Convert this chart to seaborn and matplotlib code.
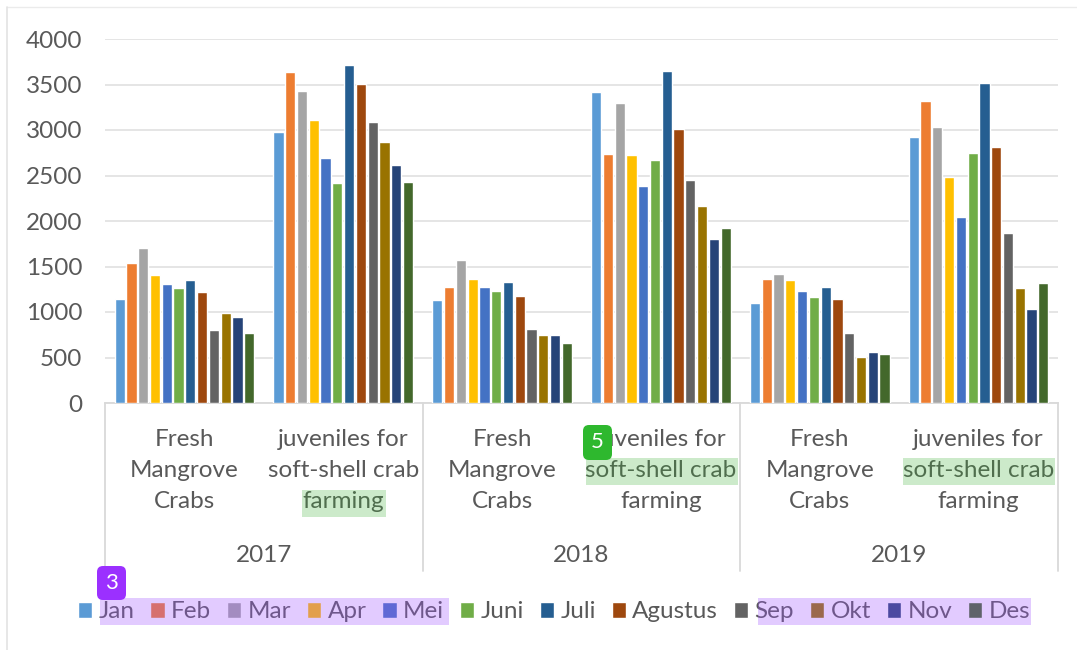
import pandas as pd
import seaborn as sns
import matplotlib.pyplot as plt
from matplotlib.patches import Rectangle, FancyBboxPatch

W, H = 1077, 650

months = ['Jan', 'Feb', 'Mar', 'Apr', 'Mei', 'Juni', 'Juli', 'Agustus', 'Sep', 'Okt', 'Nov', 'Des']
colors = ['#5B9BD5', '#ED7D31', '#A5A5A5', '#FFC000', '#4472C4', '#70AD47',
          '#255E91', '#9E480E', '#636363', '#997300', '#264478', '#43682B']
products = ['Fresh\nMangrove\nCrabs', 'juveniles for\nsoft-shell crab\nfarming']
years = ['2017', '2018', '2019']

fresh_2017 = [1141, 1538, 1699, 1402, 1310, 1259, 1347, 1218, 804, 991, 950, 767]
juv_2017 = [2973, 3637, 3424, 3112, 2690, 2422, 3714, 3505, 3083, 2870, 2617, 2430]
fresh_2018 = [1130, 1277, 1574, 1362, 1273, 1233, 1325, 1178, 811, 749, 749, 661]
juv_2018 = [3417, 2741, 3296, 2730, 2389, 2672, 3644, 3013, 2452, 2165, 1798, 1919]
fresh_2019 = [1097, 1358, 1417, 1354, 1226, 1167, 1277, 1141, 767, 510, 561, 539]
juv_2019 = [2925, 3321, 3031, 2481, 2044, 2752, 3516, 2811, 1868, 1262, 1028, 1317]
yticks = [0, 500, 1000, 1500, 2000, 2500, 3000, 3500, 4000]

all_series = [fresh_2017, juv_2017, fresh_2018, juv_2018, fresh_2019, juv_2019]
rows = []
for g, vals in enumerate(all_series):
    for m, v in zip(months, vals):
        rows.append({'group': g, 'month': m, 'value': v})
df = pd.DataFrame(rows)

sns.set_style('white')
plt.rcParams['font.family'] = ['Lato', 'DejaVu Sans']
GRAY = '#595959'
FS = 17.5


# pixel box in the picture -> figure fractions
def px_box(x0, y0, x1, y1):
    return x0 / W, 1 - y1 / H, (x1 - x0) / W, (y1 - y0) / H


fig = plt.figure(figsize=(W / 100, H / 100), dpi=100)
ax = fig.add_axes([105 / W, 1 - 403 / H, (1058 - 105) / W, (403 - 39) / H])

sns.barplot(data=df, x='group', y='value', hue='month', hue_order=months, palette=colors,
            width=0.89, gap=0.13, saturation=1, ax=ax, zorder=3)
handles, labels = ax.get_legend_handles_labels()
ax.get_legend().remove()

ax.set_xlim(-0.5, 5.5)
ax.set_ylim(0, 4000)
ax.set_yticks(yticks)
ax.set_xlabel('')
ax.set_ylabel('')
ax.yaxis.grid(True, color='#E3E3E3', lw=1.3)
ax.set_axisbelow(True)
sns.despine(ax=ax, left=True, top=True, right=True)
ax.spines['bottom'].set_color('#D9D9D9')
ax.spines['bottom'].set_linewidth(1.3)
ax.tick_params(axis='y', length=0, labelsize=FS, labelcolor=GRAY, pad=16.5)

ax.set_xticks(range(6))
ax.set_xticklabels(products * 3, fontsize=FS, color=GRAY, linespacing=1.6)
ax.tick_params(axis='x', length=0, pad=18.5)

# year row and the separators of the two level axis
trans = ax.get_xaxis_transform()
y_low = (403 - 571) / (403 - 39)
y_year = (403 - 555) / (403 - 39)
for x in [-0.5, 1.5, 3.5, 5.5]:
    ax.plot([x, x], [0, y_low], transform=trans, color='#D9D9D9', lw=1.3, clip_on=False)
for i, yr in enumerate(years):
    ax.text(0.5 + 2 * i, y_year, yr, transform=trans, ha='center', va='center',
            fontsize=FS, color=GRAY)

leg = fig.legend(handles, labels, ncol=12, loc='center', bbox_to_anchor=(554 / W, 1 - 612 / H),
                 frameon=False, fontsize=FS, labelcolor=GRAY, handlelength=0.6, handleheight=0.6,
                 handletextpad=0.25, columnspacing=0.65, borderpad=0)

# page edge
fig.add_artist(plt.Line2D([7 / W, 1], [1 - 7 / H, 1 - 7 / H], color='#EBEBEB', lw=1))
fig.add_artist(plt.Line2D([7 / W, 7 / W], [0, 1 - 7 / H], color='#E3E3E3', lw=1.2))

# highlights laid over the text
for box in [(100, 598, 449, 625), (758, 598, 1031, 625)]:
    x, y, w, h = px_box(*box)
    fig.add_artist(Rectangle((x, y), w, h, transform=fig.transFigure, fc='#A155FF', ec='none', alpha=0.3, zorder=10))
for box in [(302, 490, 386, 517), (586, 458, 738, 485), (903, 458, 1055, 485)]:
    x, y, w, h = px_box(*box)
    fig.add_artist(Rectangle((x, y), w, h, transform=fig.transFigure, fc='#37AF2F', ec='none', alpha=0.25, zorder=10))

# numbered badges
for box, txt, col in [((97, 566, 126, 600), '3', '#9B30FF'), ((583, 425, 612, 460), '5', '#2EB82E')]:
    x0, y0, x1, y1 = box
    fig.add_artist(FancyBboxPatch((x0 + 5, H - y1 + 5), x1 - x0 - 10, y1 - y0 - 10,
                                  boxstyle='round,pad=5,rounding_size=6', transform=None,
                                  fc=col, ec='none', zorder=11))
    fig.text((x0 + x1) / 2 / W, 1 - (y0 + y1) / 2 / H, txt, color='white', fontsize=16,
             ha='center', va='center', zorder=12)

fig.savefig('out.png', dpi=100)
plt.close()
